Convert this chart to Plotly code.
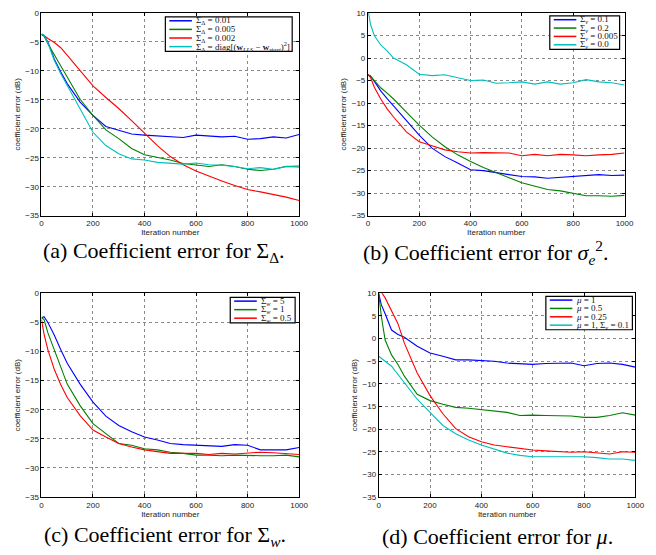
import plotly.graph_objects as go

# ---------------- data ----------------
iters = [0, 10, 25, 50, 75, 100, 150, 200, 250, 300, 350, 400, 450, 500,
         550, 600, 650, 700, 750, 800, 850, 900, 950, 1000]

# (a) Sigma_Delta
a_001 = [-3.7, -3.9, -5.0, -8.0, -10.2, -12.2, -15.4, -17.7, -19.6, -20.2, -20.9, -21.1, -21.2, -21.3,
         -21.5, -21.1, -21.2, -21.4, -21.3, -21.8, -21.7, -21.4, -21.6, -21.0]
a_0005 = [-3.7, -4.0, -5.3, -7.2, -9.2, -11.2, -14.9, -17.7, -20.2, -21.7, -23.4, -24.5, -24.9, -25.4,
          -26.0, -26.3, -26.5, -26.2, -26.5, -27.0, -27.2, -27.0, -26.5, -26.6]
a_0002 = [-3.7, -3.9, -4.4, -5.1, -6.0, -7.3, -9.9, -12.6, -14.6, -16.5, -18.6, -20.8, -22.9, -24.8,
          -26.2, -27.3, -28.2, -29.0, -29.8, -30.5, -30.9, -31.3, -31.8, -32.4]
a_diag = [-3.6, -3.8, -5.2, -8.2, -10.5, -12.5, -16.6, -20.6, -22.9, -24.3, -25.2, -25.4, -25.8, -25.9,
          -26.1, -25.9, -26.2, -26.3, -26.5, -26.9, -26.7, -27.0, -26.5, -26.4]

# (b) sigma_e^2
b_01 = [-3.7, -4.0, -5.2, -7.3, -9.0, -10.6, -13.8, -17.1, -20.0, -21.9, -23.3, -24.8, -25.0, -25.5,
        -25.9, -26.3, -26.4, -26.7, -26.5, -26.3, -26.0, -25.9, -26.1, -26.0]
b_02 = [-3.7, -4.0, -5.0, -6.6, -7.8, -9.1, -12.0, -14.9, -17.5, -19.7, -21.5, -23.0, -24.3, -25.5,
        -26.6, -27.7, -28.4, -29.2, -29.5, -30.1, -30.6, -30.6, -30.7, -30.5]
b_0005 = [-3.7, -4.3, -6.5, -9.1, -11.3, -13.1, -16.4, -18.6, -19.5, -20.4, -20.8, -21.1, -21.0, -21.1,
          -21.1, -21.7, -21.4, -21.7, -21.4, -21.5, -21.7, -21.5, -21.4, -21.1]
b_00 = [11.0, 7.5, 5.0, 2.9, 1.6, 0.0, -1.5, -3.6, -3.9, -3.7, -4.4, -5.0, -4.9, -5.6,
        -5.5, -5.3, -5.8, -5.3, -5.8, -5.5, -4.8, -5.3, -5.5, -6.0]

# (c) Sigma_w
c_5 = [-4.2, -4.0, -5.0, -7.2, -9.7, -12.0, -15.6, -18.7, -21.1, -22.7, -23.8, -24.7, -25.2, -25.8,
       -26.0, -26.1, -26.2, -26.3, -26.0, -26.1, -26.9, -26.9, -26.9, -26.5]
c_1 = [-4.2, -4.5, -6.8, -9.7, -12.9, -15.6, -19.3, -22.4, -24.1, -25.8, -26.1, -26.7, -26.9, -27.3,
       -27.5, -27.8, -27.8, -27.9, -27.8, -27.9, -27.9, -27.9, -27.8, -28.1]
c_05 = [-4.5, -7.0, -9.7, -13.1, -15.7, -17.9, -21.0, -23.5, -24.7, -25.8, -26.4, -26.9, -27.2, -27.5,
        -27.5, -27.5, -27.7, -27.5, -27.6, -27.5, -27.3, -27.4, -27.5, -27.7]

# (d) mu
d_1 = [10.0, 7.5, 5.5, 1.9, 0.9, 0.3, -1.7, -3.2, -3.9, -4.7, -4.7, -4.9, -5.0, -5.4,
       -5.6, -5.7, -5.5, -5.5, -5.4, -6.0, -5.5, -5.4, -5.7, -6.3]
d_05 = [10.0, 5.0, -0.3, -3.6, -5.7, -8.3, -12.3, -13.7, -14.5, -15.2, -15.4, -15.7, -16.1, -16.3,
        -17.0, -16.9, -17.0, -17.1, -17.1, -17.4, -17.4, -17.0, -16.4, -16.9]
d_025 = [11.5, 10.3, 9.0, 6.2, 3.3, -1.0, -7.6, -12.6, -16.6, -19.9, -21.7, -22.8, -23.5, -23.9,
         -24.3, -24.6, -24.8, -25.0, -25.1, -25.0, -25.3, -25.5, -25.0, -25.1]
d_1s = [-3.9, -4.3, -5.0, -6.1, -7.9, -9.7, -13.4, -16.3, -19.2, -21.0, -22.4, -23.5, -24.4, -25.3,
        -25.8, -26.1, -26.1, -26.1, -26.1, -26.1, -26.3, -26.6, -26.6, -26.9]

labels_a = ["Σ<sub>Δ</sub> = 0.01", "Σ<sub>Δ</sub> = 0.005", "Σ<sub>Δ</sub> = 0.002",
            "Σ<sub>Δ</sub> = diag[(<b>w</b><sub><i>LLS</i></sub> − <b>w</b><sub><i>start</i></sub>)<sup>2</sup>]"]
labels_b = ["Σ<sub><i>v</i></sub> = 0.1", "Σ<sub><i>v</i></sub> = 0.2",
            "Σ<sub><i>v</i></sub> = 0.005", "Σ<sub><i>v</i></sub> = 0.0"]
labels_c = ["Σ<sub><i>w</i></sub> = 5", "Σ<sub><i>w</i></sub> = 1", "Σ<sub><i>w</i></sub> = 0.5"]
labels_d = ["<i>μ</i> = 1", "<i>μ</i> = 0.5", "<i>μ</i> = 0.25", "<i>μ</i> = 1, Σ<sub><i>v</i></sub> = 0.1"]

captions = ["(a) Coefficient error for Σ<sub>Δ</sub>.",
            "(b) Coefficient error for <i>σ</i><sub><i>e</i></sub><sup>2</sup>.",
            "(c) Coefficient error for Σ<sub><i>w</i></sub>.",
            "(d) Coefficient error for <i>μ</i>."]

x_ticks = [0, 200, 400, 600, 800, 1000]
y_ticks_a = [-35, -30, -25, -20, -15, -10, -5, 0]
y_ticks_b = [-35, -30, -25, -20, -15, -10, -5, 0, 5, 10]

BLUE, GREEN, RED, CYAN = "#0000ff", "#008000", "#ff0000", "#00bfbf"

# ---------------- layout helpers ----------------
W, H = 656, 555
OFF = 8  # page body margin


def px(x):
    return (x - OFF) / W


def py(y):
    return 1 - (y - OFF) / H


panels = [
    dict(dom=(40, 302, 9, 215), series=[a_001, a_0005, a_0002, a_diag], colors=[BLUE, GREEN, RED, CYAN],
         labels=labels_a, yr=[-35, 0], yt=y_ticks_a, leg=(166, 295, 13, 48), cap=(165, 252)),
    dict(dom=(372, 633, 9, 215), series=[b_01, b_02, b_0005, b_00], colors=[BLUE, GREEN, RED, CYAN],
         labels=labels_b, yr=[-35, 10], yt=y_ticks_b, leg=(557, 628, 12, 46), cap=(492, 252)),
    dict(dom=(40, 302, 294, 501), series=[c_5, c_1, c_05], colors=[BLUE, GREEN, RED],
         labels=labels_c, yr=[-35, 0], yt=y_ticks_a, leg=(232, 298, 298, 324), cap=(166, 541)),
    dict(dom=(383, 644, 294, 501), series=[d_1, d_05, d_025, d_1s], colors=[BLUE, GREEN, RED, CYAN],
         labels=labels_d, yr=[-35, 10], yt=y_ticks_b, leg=(553, 641, 297, 331), cap=(504, 541)),
]

fig = go.Figure()
shapes = []
annotations = []
layout_axes = {}

for k, p in enumerate(panels):
    n = k + 1
    xa = "x" if n == 1 else f"x{n}"
    ya = "y" if n == 1 else f"y{n}"
    for s, c in zip(p["series"], p["colors"]):
        fig.add_trace(go.Scatter(x=iters, y=s, mode="lines", xaxis=xa, yaxis=ya,
                                 line=dict(color=c, width=1.1), showlegend=False,
                                 hoverinfo="skip"))
    x0, x1, yt, yb = p["dom"]
    common = dict(showline=True, linecolor="black", linewidth=1, mirror="ticks",
                  ticks="inside", ticklen=3, tickcolor="black", showgrid=True,
                  gridcolor="#8a8a8a", griddash="dot", gridwidth=0.8, zeroline=False,
                  tickfont=dict(family="Liberation Sans, Arial", size=8, color="#222"))
    layout_axes["xaxis" if n == 1 else f"xaxis{n}"] = dict(
        common, domain=[px(x0), px(x1)], range=[0, 1000], tickvals=x_ticks,
        anchor=ya, title=dict(text="Iteration number", standoff=2,
                              font=dict(family="Liberation Sans, Arial", size=8, color="#222")))
    layout_axes["yaxis" if n == 1 else f"yaxis{n}"] = dict(
        common, domain=[py(yb), py(yt)], range=p["yr"], tickvals=p["yt"],
        anchor=xa, title=dict(text="coefficient error (dB)", standoff=3,
                              font=dict(family="Liberation Sans, Arial", size=8, color="#222")))

    # legend box (drawn as layout decoration)
    lx0, lx1, ly0, ly1 = p["leg"]
    shapes.append(dict(type="rect", xref="paper", yref="paper", x0=px(lx0), x1=px(lx1),
                       y0=py(ly1), y1=py(ly0), line=dict(color="black", width=1.2),
                       fillcolor="white", layer="above"))
    nitem = len(p["labels"])
    hh = ly1 - ly0
    for i, (lab, c) in enumerate(zip(p["labels"], p["colors"])):
        cy = ly0 + hh * (i + 0.45) / nitem
        shapes.append(dict(type="line", xref="paper", yref="paper", x0=px(lx0 + 4), x1=px(lx0 + 27),
                           y0=py(cy), y1=py(cy), line=dict(color=c, width=1.5), layer="above"))
        annotations.append(dict(xref="paper", yref="paper", x=px(lx0 + 29), y=py(cy),
                                xanchor="left", yanchor="middle", text=lab, showarrow=False,
                                font=dict(family="Liberation Serif, Times New Roman", size=9, color="#111")))
    # caption
    cx, cy = p["cap"]
    annotations.append(dict(xref="paper", yref="paper", x=px(cx), y=py(cy), xanchor="center",
                            yanchor="middle", text=captions[k], showarrow=False,
                            font=dict(family="Liberation Serif, Times New Roman", size=22, color="black")))

fig.update_layout(width=W, height=H, margin=dict(l=0, r=0, t=0, b=0),
                  paper_bgcolor="white", plot_bgcolor="white",
                  shapes=shapes, annotations=annotations, **layout_axes)

fig.write_html("out.html")
